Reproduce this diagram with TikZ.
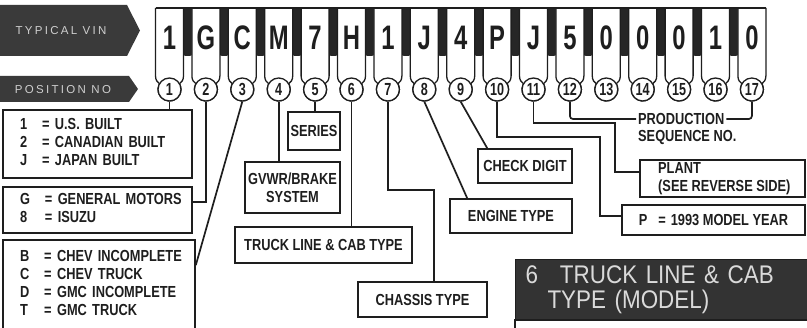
\documentclass[tikz,border=0pt]{standalone}
\usepackage{fontspec}
\setmainfont{Liberation Sans}
\newfontfamily\labfont[FakeStretch=0.8]{Liberation Sans}
\newfontfamily\vinfont[FakeStretch=0.7]{Liberation Sans}
\newfontfamily\numfont[FakeStretch=0.72]{Liberation Sans}
\newfontfamily\arrfont[LetterSpace=20]{Liberation Sans}
\newfontfamily\bigfont[FakeStretch=0.88]{Liberation Sans}
\usetikzlibrary{calc}
\definecolor{ink}{HTML}{1E1E1E}
\definecolor{arrowcol}{HTML}{3A3A3A}
\definecolor{barcol}{HTML}{262626}
\definecolor{arrtxtcol}{HTML}{CFCFCF}
\definecolor{darkcol}{HTML}{333333}
\definecolor{darktxt}{HTML}{DADADA}
\begin{document}
\begin{tikzpicture}[x=1pt,y=1pt,
  lblfont/.style={font=\labfont\bfseries\fontsize{16}{18}\selectfont},
  box/.style={draw=ink, line width=1.6pt, fill=white, inner sep=0pt, lblfont, text=ink, align=center},
  conn/.style={draw=ink, line width=1.7pt},
  cellline/.style={draw=ink, line width=1.3pt},
  vinletter/.style={font=\vinfont\bfseries\fontsize{34}{34}\selectfont, text=ink, inner sep=0pt},
  posnum/.style={circle, draw=ink, line width=1.3pt, fill=white, minimum size=23pt, inner sep=0pt, font=\numfont\bfseries\fontsize{17.5}{17.5}\selectfont, text=ink},
  arrtxt/.style={font=\arrfont\fontsize{11.5}{12}\selectfont, text=arrtxtcol, inner sep=0pt},
]
\useasboundingbox (0,0) rectangle (807,-328);
\clip (0,0) rectangle (807,-328);

% arrow tags
\fill[arrowcol] (0,-5) -- (127,-5) -- (140,-30.5) -- (127,-56) -- (0,-56) -- cycle;
\node[arrtxt] (tvin) at (61,-31) {TYPICAL VIN};
\fill[arrowcol] (0,-76) -- (129,-76) -- (138,-89) -- (129,-102) -- (0,-102) -- cycle;
\node[arrtxt] (tpos) at (63,-89.5) {POSITION NO};

% VIN strip
\foreach \i/\ch in {1/1,2/G,3/C,4/M,5/7,6/H,7/1,8/J,9/4,10/P,11/J,12/5,13/0,14/0,15/0,16/1,17/0} {
  \pgfmathsetmacro\c{169.5+(\i-1)*36.4}
  \ifnum\i<17
    \fill[barcol] ({\c+13},-8) [rounded corners=3pt] -- ({\c+13},-56) -- ({\c+23.4},-56) [sharp corners] -- ({\c+23.4},-8) -- cycle;
  \fi
  \filldraw[fill=white, cellline] ({\c-14},-8) -- ({\c-14},-76) .. controls ({\c-14},-80) and ({\c-12},-82.5) .. ({\c-9.96},-83.75) arc[start angle=150, end angle=390, radius=11.5] .. controls ({\c+12},-82.5) and ({\c+14},-80) .. ({\c+14},-76) -- ({\c+14},-8);
  \node[vinletter] (v\i) at (\c,-37.5) {\ch};
  \node[posnum] (p\i) at (\c,-89.5) {\i};
}
\draw[cellline] (155.5,-8) -- (765.9,-8);

% description boxes
\node[box, minimum height=68pt, text width=155pt, inner xsep=17pt, align=left] (bA) at (97.5,-144)
  {\begin{tabular}{@{}l@{\hspace{15pt}}l@{}}1&= U.S. BUILT\\2&= CANADIAN BUILT\\J&= JAPAN BUILT\end{tabular}};
\node[box, minimum height=46pt, text width=155pt, inner xsep=17pt, align=left] (bB) at (97.5,-210)
  {\begin{tabular}{@{}l@{\hspace{15pt}}l@{}}G&= GENERAL MOTORS\\8&= ISUZU\end{tabular}};
\node[box, minimum height=90pt, text width=158pt, inner xsep=17pt, align=left] (bC) at (99,-285)
  {\begin{tabular}{@{}l@{\hspace{15pt}}l@{}}B&= CHEV INCOMPLETE\\C&= CHEV TRUCK\\D&= GMC INCOMPLETE\\T&= GMC TRUCK\end{tabular}};
\node[box, minimum width=52pt, minimum height=38pt] (bSer) at (314,-131) {SERIES};
\node[box, minimum width=95pt, minimum height=51pt] (bGv) at (292.5,-187.5) {GVWR/BRAKE\\SYSTEM};
\node[box, minimum width=177pt, minimum height=36pt] (bTl) at (323.5,-245) {TRUCK LINE \& CAB TYPE};
\node[box, minimum width=129pt, minimum height=35pt] (bCh) at (422.5,-299.5) {CHASSIS TYPE};
\node[box, minimum width=122pt, minimum height=34pt] (bEng) at (511,-216) {ENGINE TYPE};
\node[box, minimum width=94pt, minimum height=34pt] (bChk) at (525,-166) {CHECK DIGIT};
\node[box, minimum width=165pt, minimum height=37pt] (bPl) at (722.5,-178.5) {};
\node[lblfont, text=ink, anchor=west, align=left, inner sep=0pt] (tPl) at (658,-178.5) {PLANT\\(SEE REVERSE SIDE)};
\node[box, minimum width=183pt, minimum height=30pt] (bP) at (713.5,-220) {P\hspace{11pt}=\hspace{5pt}1993 MODEL YEAR};
\node[lblfont, text=ink, anchor=west, inner xsep=2pt, inner ysep=0pt] (prod1) at (636,-119) {PRODUCTION};
\node[lblfont, text=ink, anchor=west, inner sep=0pt] (prod2) at (638,-137) {SEQUENCE NO.};

% connectors
\coordinate (k7) at (434,-190);
\coordinate (k10) at (600,-137);
\coordinate (k11) at (615,-123);
\draw[conn] (p1.south) -- (p1.south |- bA.north);
\draw[conn] (p2.south) |- ($(bB.north east)+(0,-16)$);
\draw[conn] (p3.south) -- ($(bC.north east)+(0,-26)$);
\draw[conn] (p4.south) -- (p4.south |- bGv.north);
\draw[conn] (p5.south) -- (p5.south |- bSer.north);
\draw[conn] (p6.south) -- (p6.south |- bTl.north);
\draw[conn] (p7.south) |- (k7) -- (k7 |- bCh.north);
\draw[conn] (p8.south) -- ($(bEng.north west)+(18,0)$);
\draw[conn] (p9.south) -- ($(bChk.north west)+(10,0)$);
\draw[conn] (p10.south) |- (k10) |- ($(bP.north west)+(0,-12)$);
\draw[conn] (p11.south) |- (k11) |- ($(bPl.north west)+(0,-13)$);
\draw[conn, rounded corners=3pt] (p12.south) |- (prod1.west);
\draw[conn, rounded corners=3pt] (prod1.east) -| (p17.south);

% model box
\node[fill=darkcol, draw=ink, line width=1pt, anchor=north west, minimum height=61pt, text width=300pt, inner xsep=10pt, inner ysep=0pt, align=left, text=darktxt, font=\bigfont\fontsize{25.5}{25}\selectfont] (dark) at (515,-259) {6\hspace{22pt}TRUCK LINE \& CAB\\\hspace*{22pt}TYPE (MODEL)};
\draw[ink, line width=1.5pt] (515,-320) rectangle (830,-360);
\end{tikzpicture}
\end{document}
